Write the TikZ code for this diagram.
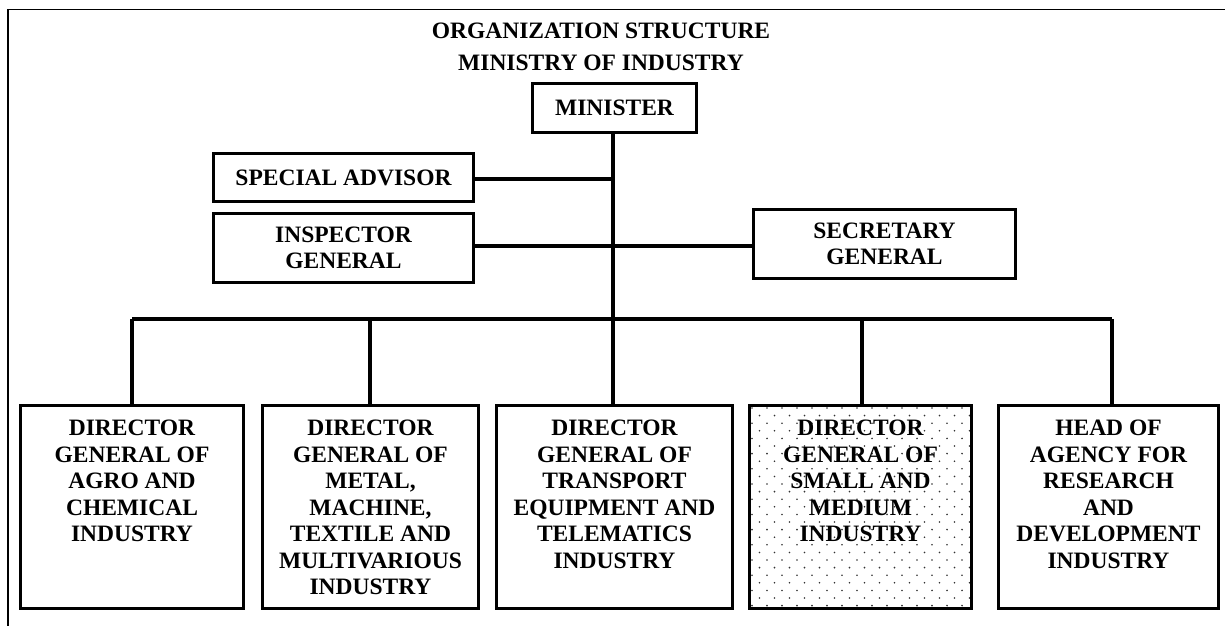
\documentclass[tikz,border=0pt]{standalone}
\usepackage{fontspec}
\setmainfont{Liberation Serif}
\usetikzlibrary{calc}
\begin{document}
\begin{tikzpicture}[x=1pt,y=-1pt,
  box/.style={draw, line width=3.6pt, inner sep=0pt},
  lbl/.style={font=\fontsize{23.5}{26.5}\selectfont\bfseries, align=center, inner sep=0pt},
  conn/.style={line width=3.2pt},
  frame/.style={line width=1.8pt}]
\useasboundingbox (0,0) rectangle (1225,625);
% outer frame (only top and left edges visible)
\draw[frame] (8,630) -- (8,9.5) -- (1230,9.5);
% title
\node[lbl, font=\fontsize{23.5}{32}\selectfont\bfseries] (title) at (601,46.5) {ORGANIZATION STRUCTURE\\MINISTRY OF INDUSTRY};
% upper boxes
\node[box, lbl, minimum width=164pt, minimum height=49pt] (min) at (614.5,108) {MINISTER};
\node[box, lbl, minimum width=260pt, minimum height=48pt] (spec) at (343.5,177.5) {SPECIAL ADVISOR};
\node[box, lbl, minimum width=260pt, minimum height=69pt] (insp) at (343.5,248) {INSPECTOR\\GENERAL};
\node[box, lbl, minimum width=262pt, minimum height=69pt] (sec) at (884.5,244) {SECRETARY\\GENERAL};
% dotted fill of box 4 (drawn first, border on top)
\begin{scope}
\clip (749.5,405.5) rectangle (971.5,608.5);
\foreach \r in {0,...,27}{
  \pgfmathsetmacro{\yy}{408+\r*7.6}
  \pgfmathsetmacro{\off}{mod(\r,2)*7.5}
  \foreach \c in {0,...,15}{
    \fill[black!80] ({752+\off+\c*15},\yy) circle (0.9pt);
  }
}
\end{scope}
% bottom boxes
\node[box, minimum width=223pt, minimum height=203pt] (b1) at (132,507) {};
\node[box, minimum width=216pt, minimum height=203pt] (b2) at (370.5,507) {};
\node[box, minimum width=236pt, minimum height=203pt] (b3) at (614.5,507) {};
\node[box, minimum width=222pt, minimum height=203pt] (b4) at (860.5,507) {};
\node[box, minimum width=220pt, minimum height=203pt] (b5) at (1108.5,507) {};
% bottom box texts
\node[lbl, anchor=north] (t1) at ($(b1.north)+(0,16.5)$) {DIRECTOR\\GENERAL OF\\AGRO AND\\CHEMICAL\\INDUSTRY};
\node[lbl, anchor=north] (t2) at ($(b2.north)+(0,16.5)$) {DIRECTOR\\GENERAL OF\\METAL,\\MACHINE,\\TEXTILE AND\\MULTIVARIOUS\\INDUSTRY};
\node[lbl, anchor=north] (t3) at ($(b3.north)+(0,16.5)$) {DIRECTOR\\GENERAL OF\\TRANSPORT\\EQUIPMENT AND\\TELEMATICS\\INDUSTRY};
\node[lbl, anchor=north] (t4) at ($(b4.north)+(0,16.5)$) {DIRECTOR\\GENERAL OF\\SMALL AND\\MEDIUM\\INDUSTRY};
\node[lbl, anchor=north] (t5) at ($(b5.north)+(0,16.5)$) {HEAD OF\\AGENCY FOR\\RESEARCH\\AND\\DEVELOPMENT\\INDUSTRY};
% junction coordinates
\coordinate (m1) at (613,179);
\coordinate (m2) at (613,246);
\coordinate (j1) at (132,319);
\coordinate (j2) at (370,319);
\coordinate (j3) at (613,319);
\coordinate (j4) at (862,319);
\coordinate (j5) at (1112,319);
% connectors
\draw[conn] (min.south -| j3) -- (j3 |- b3.north);
\draw[conn] (spec.east |- m1) -- (m1);
\draw[conn] (m2 -| insp.east) -- (m2 -| sec.west);
\draw[conn] (j1) -- (j5);
\draw[conn] (j1) -- (j1 |- b1.north);
\draw[conn] (j2) -- (j2 |- b2.north);
\draw[conn] (j4) -- (j4 |- b4.north);
\draw[conn] (j5) -- (j5 |- b5.north);
\end{tikzpicture}
\end{document}
